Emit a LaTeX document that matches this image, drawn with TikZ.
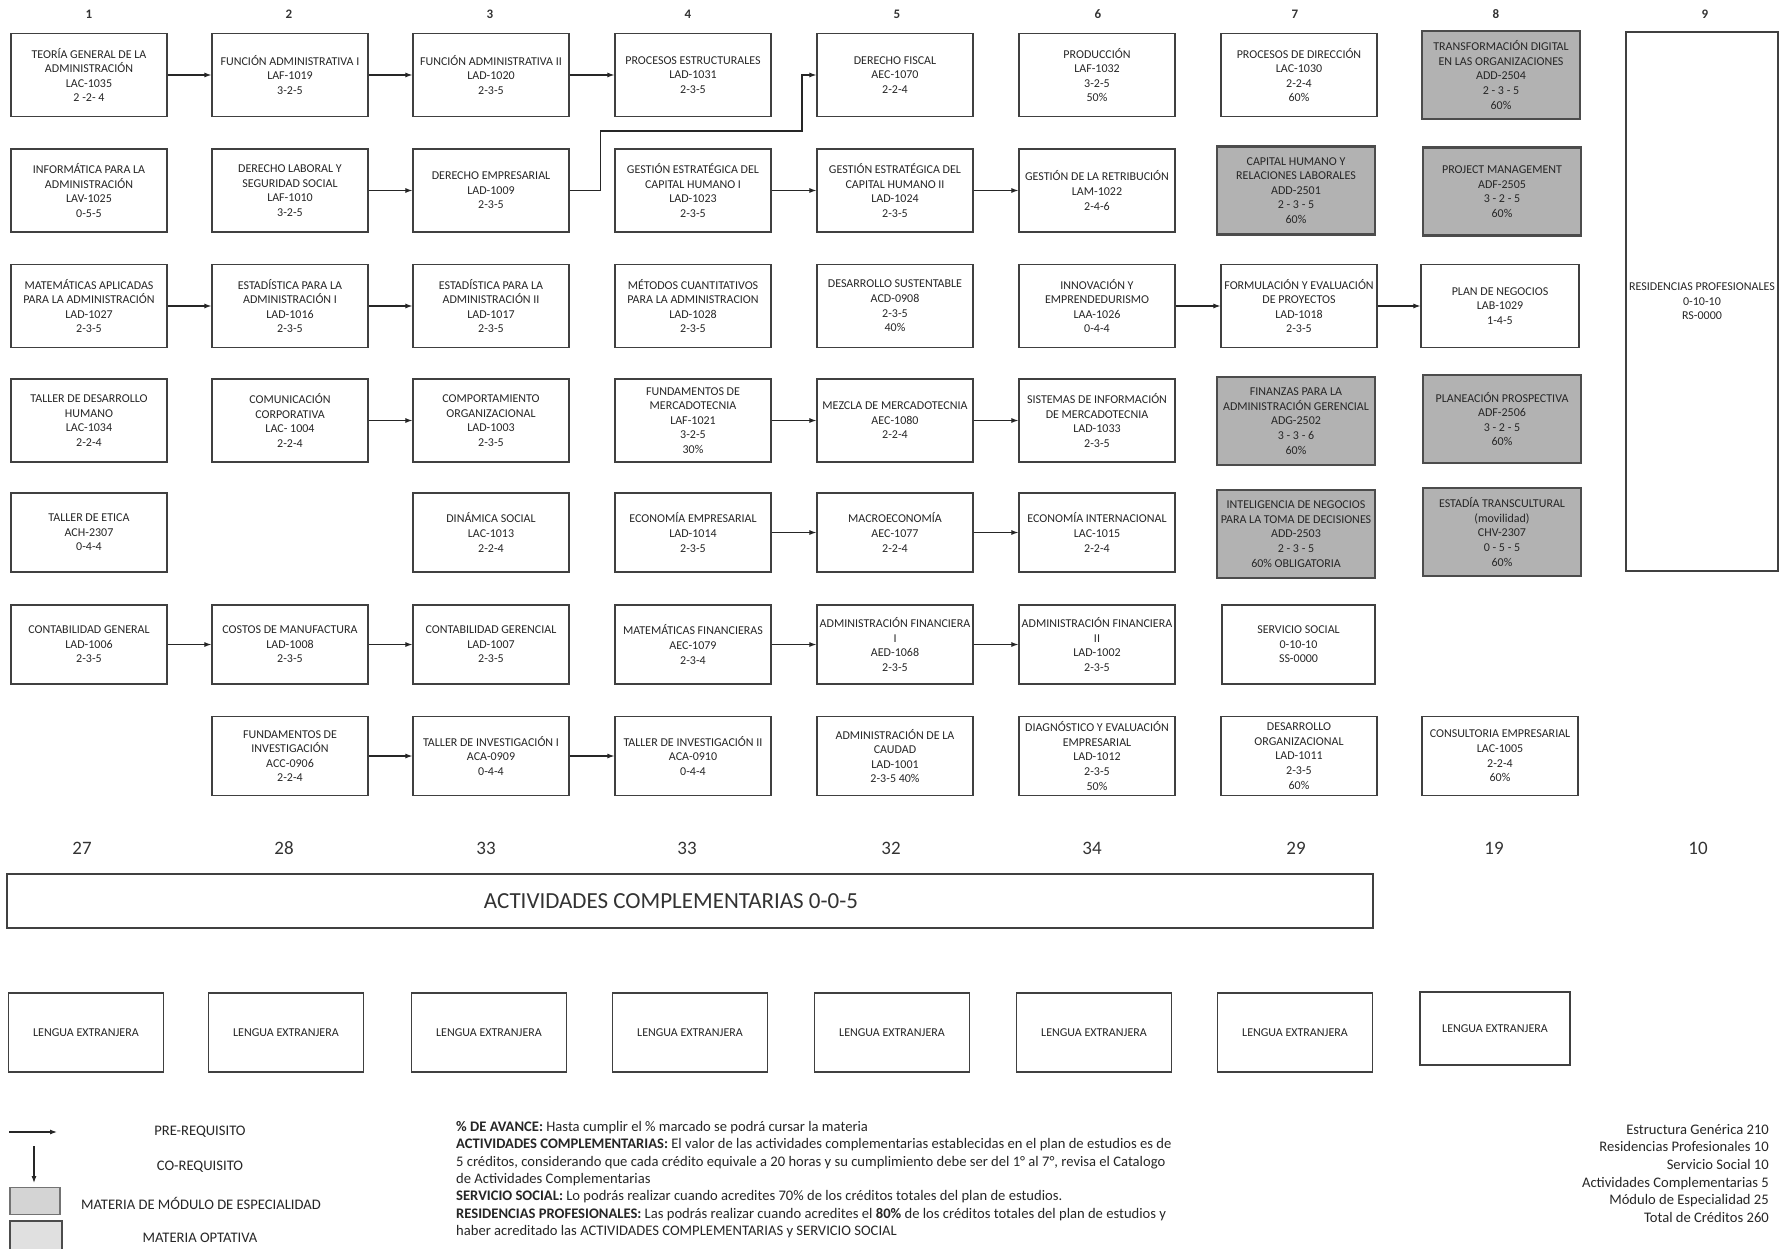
\documentclass[tikz,border=0pt]{standalone}
\usepackage{fontspec}
\setmainfont{Carlito}
\usetikzlibrary{arrows.meta}
\tikzset{
  materia/.style={draw=black!75,line width=1.2pt,minimum width=156pt,minimum height=83pt,
    align=center,inner sep=1pt,text=black!85,font=\fontsize{12}{14.6}\selectfont},
  corta/.style={materia,minimum height=79pt},
  modulo/.style={materia,fill=black!30,draw=black!70,line width=2.6pt,minimum width=158pt,minimum height=88pt},
  lengua/.style={materia,minimum width=155pt,minimum height=79pt},
  pre/.style={-{Latex[length=7pt,width=5pt]},line width=1.1pt,black!85},
  semestre/.style={font=\fontsize{13}{15}\selectfont\bfseries,text=black!80},
  creditos/.style={font=\fontsize{19}{22}\selectfont,text=black!80},
  leyenda/.style={font=\fontsize{14.6}{17}\selectfont,text=black!85}
}
\begin{document}
\begin{tikzpicture}[x=1pt,y=-1pt]
\useasboundingbox (0,0) rectangle (1784,1249);

\node[semestre] (s1) at (89,14) {1};
\node[semestre] (s2) at (289,14) {2};
\node[semestre] (s3) at (490,14) {3};
\node[semestre] (s4) at (688,14) {4};
\node[semestre] (s5) at (897,14) {5};
\node[semestre] (s6) at (1098,14) {6};
\node[semestre] (s7) at (1295,14) {7};
\node[semestre] (s8) at (1496,14) {8};
\node[semestre] (s9) at (1705,14) {9};

\node[materia] (teoria) at (89,75) {TEORÍA GENERAL DE LA\\ADMINISTRACIÓN\\LAC-1035\\2 -2- 4};
\node[materia] (funadm1) at (290,75) {FUNCIÓN ADMINISTRATIVA I\\LAF-1019\\3-2-5};
\node[materia] (funadm2) at (491,75) {FUNCIÓN ADMINISTRATIVA II\\LAD-1020\\2-3-5};
\node[materia] (procest) at (693,75) {PROCESOS ESTRUCTURALES\\LAD-1031\\2-3-5};
\node[materia] (derfiscal) at (895,75) {DERECHO FISCAL\\AEC-1070\\2-2-4};
\node[materia] (produccion) at (1097,75) {PRODUCCIÓN\\LAF-1032\\3-2-5\\50\%};
\node[materia] (procdir) at (1299,75) {PROCESOS DE DIRECCIÓN\\LAC-1030\\2-2-4\\60\%};
\node[modulo] (transdig) at (1501,75) {TRANSFORMACIÓN DIGITAL\\EN LAS ORGANIZACIONES\\ADD-2504\\2 - 3 - 5\\60\%};
\node[materia,minimum width=152pt,minimum height=539pt] (residencias) at (1702,301.5) {RESIDENCIAS PROFESIONALES\\0-10-10\\RS-0000};

\node[materia] (informatica) at (89,190.5) {INFORMÁTICA PARA LA\\ADMINISTRACIÓN\\LAV-1025\\0-5-5};
\node[materia] (derlab) at (290,190.5) {DERECHO LABORAL Y\\SEGURIDAD SOCIAL\\LAF-1010\\3-2-5};
\node[materia] (deremp) at (491,190.5) {DERECHO EMPRESARIAL\\LAD-1009\\2-3-5};
\node[materia] (gech1) at (693,190.5) {GESTIÓN ESTRATÉGICA DEL\\CAPITAL HUMANO I\\LAD-1023\\2-3-5};
\node[materia] (gech2) at (895,190.5) {GESTIÓN ESTRATÉGICA DEL\\CAPITAL HUMANO II\\LAD-1024\\2-3-5};
\node[materia] (retrib) at (1097,190.5) {GESTIÓN DE LA RETRIBUCIÓN\\LAM-1022\\2-4-6};
\node[modulo] (caphum) at (1296,190.5) {CAPITAL HUMANO Y\\RELACIONES LABORALES\\ADD-2501\\2 - 3 - 5\\60\%};
\node[modulo] (projman) at (1502,191.5) {PROJECT MANAGEMENT\\ADF-2505\\3 - 2 - 5\\60\%};

\node[materia] (matapl) at (89,306) {MATEMÁTICAS APLICADAS\\PARA LA ADMINISTRACIÓN\\LAD-1027\\2-3-5};
\node[materia] (estad1) at (290,306) {ESTADÍSTICA PARA LA\\ADMINISTRACIÓN I\\LAD-1016\\2-3-5};
\node[materia] (estad2) at (491,306) {ESTADÍSTICA PARA LA\\ADMINISTRACIÓN II\\LAD-1017\\2-3-5};
\node[materia] (metcuant) at (693,306) {MÉTODOS CUANTITATIVOS\\PARA LA ADMINISTRACION\\LAD-1028\\2-3-5};
\node[materia] (dessust) at (895,306) {DESARROLLO SUSTENTABLE\\ACD-0908\\2-3-5\\40\%};
\node[materia] (innov) at (1097,306) {INNOVACIÓN Y\\EMPRENDEDURISMO\\LAA-1026\\0-4-4};
\node[materia] (formeval) at (1299,306) {FORMULACIÓN Y EVALUACIÓN\\DE PROYECTOS\\LAD-1018\\2-3-5};
\node[materia,minimum width=158pt] (planneg) at (1500,306) {PLAN DE NEGOCIOS\\LAB-1029\\1-4-5};

\node[materia] (tallerdh) at (89,420.5) {TALLER DE DESARROLLO\\HUMANO\\LAC-1034\\2-2-4};
\node[materia] (comcorp) at (290,420.5) {COMUNICACIÓN\\CORPORATIVA\\LAC- 1004\\2-2-4};
\node[materia] (comporg) at (491,420.5) {COMPORTAMIENTO\\ORGANIZACIONAL\\LAD-1003\\2-3-5};
\node[materia] (fundmerc) at (693,420.5) {FUNDAMENTOS DE\\MERCADOTECNIA\\LAF-1021\\3-2-5\\30\%};
\node[materia] (mezcla) at (895,420.5) {MEZCLA DE MERCADOTECNIA\\AEC-1080\\2-2-4};
\node[materia] (sistinf) at (1097,420.5) {SISTEMAS DE INFORMACIÓN\\DE MERCADOTECNIA\\LAD-1033\\2-3-5};
\node[modulo] (finanzas) at (1296,421) {FINANZAS PARA LA\\ADMINISTRACIÓN GERENCIAL\\ADG-2502\\3 - 3 - 6\\60\%};
\node[modulo] (planpros) at (1502,419) {PLANEACIÓN PROSPECTIVA\\ADF-2506\\3 - 2 - 5\\60\%};

\node[corta] (etica) at (89,532.5) {TALLER DE ETICA\\ACH-2307\\0-4-4};
\node[corta] (dinsocial) at (491,532.5) {DINÁMICA SOCIAL\\LAC-1013\\2-2-4};
\node[corta] (econemp) at (693,532.5) {ECONOMÍA EMPRESARIAL\\LAD-1014\\2-3-5};
\node[corta] (macro) at (895,532.5) {MACROECONOMÍA\\AEC-1077\\2-2-4};
\node[corta] (econint) at (1097,532.5) {ECONOMÍA INTERNACIONAL\\LAC-1015\\2-2-4};
\node[modulo] (intneg) at (1296,534) {INTELIGENCIA DE NEGOCIOS\\PARA LA TOMA DE DECISIONES\\ADD-2503\\2 - 3 - 5\\60\% OBLIGATORIA};
\node[modulo] (estadia) at (1502,532) {ESTADÍA TRANSCULTURAL\\(movilidad)\\CHV-2307\\0 - 5 - 5\\60\%};

\node[corta] (contgen) at (89,644.5) {CONTABILIDAD GENERAL\\LAD-1006\\2-3-5};
\node[corta] (costos) at (290,644.5) {COSTOS DE MANUFACTURA\\LAD-1008\\2-3-5};
\node[corta] (contger) at (491,644.5) {CONTABILIDAD GERENCIAL\\LAD-1007\\2-3-5};
\node[corta] (matfin) at (693,644.5) {MATEMÁTICAS FINANCIERAS\\AEC-1079\\2-3-4};
\node[corta] (admfin1) at (895,644.5) {ADMINISTRACIÓN FINANCIERA\\I\\AED-1068\\2-3-5};
\node[corta] (admfin2) at (1097,644.5) {ADMINISTRACIÓN FINANCIERA\\II\\LAD-1002\\2-3-5};
\node[corta,minimum width=153pt] (servsocial) at (1298.5,644.5) {SERVICIO SOCIAL\\0-10-10\\SS-0000};

\node[corta] (fundinv) at (290,756) {FUNDAMENTOS DE\\INVESTIGACIÓN\\ACC-0906\\2-2-4};
\node[corta] (tallinv1) at (491,756) {TALLER DE INVESTIGACIÓN I\\ACA-0909\\0-4-4};
\node[corta] (tallinv2) at (693,756) {TALLER DE INVESTIGACIÓN II\\ACA-0910\\0-4-4};
\node[corta] (calidad) at (895,756) {ADMINISTRACIÓN DE LA\\CAUDAD\\LAD-1001\\2-3-5 40\%};
\node[corta] (diagnostico) at (1097,756) {DIAGNÓSTICO Y EVALUACIÓN\\EMPRESARIAL\\LAD-1012\\2-3-5\\50\%};
\node[corta] (desorg) at (1299,756) {DESARROLLO\\ORGANIZACIONAL\\LAD-1011\\2-3-5\\60\%};
\node[corta] (consultoria) at (1500,756) {CONSULTORIA EMPRESARIAL\\LAC-1005\\2-2-4\\60\%};

\draw[pre] (teoria) -- (funadm1);
\draw[pre] (funadm1) -- (funadm2);
\draw[pre] (funadm2) -- (procest);
\draw[pre] (derlab) -- (deremp);
\draw[pre] (gech1) -- (gech2);
\draw[pre] (gech2) -- (retrib);
\coordinate (quiebre) at (802,131);
\draw[pre] (deremp.east) -- ++(31,0) |- (quiebre) |- (derfiscal.west);
\draw[pre] (matapl) -- (estad1);
\draw[pre] (estad1) -- (estad2);
\draw[pre] (innov) -- (formeval);
\draw[pre] (formeval) -- (planneg);
\draw[pre] (comcorp) -- (comporg);
\draw[pre] (fundmerc) -- (mezcla);
\draw[pre] (mezcla) -- (sistinf);
\draw[pre] (econemp) -- (macro);
\draw[pre] (macro) -- (econint);
\draw[pre] (contgen) -- (costos);
\draw[pre] (costos) -- (contger);
\draw[pre] (matfin) -- (admfin1);
\draw[pre] (admfin1) -- (admfin2);
\draw[pre] (fundinv) -- (tallinv1);
\draw[pre] (tallinv1) -- (tallinv2);

\node[creditos] (c1) at (82,848) {27};
\node[creditos] (c2) at (284,848) {28};
\node[creditos] (c3) at (486,848) {33};
\node[creditos] (c4) at (687,848) {33};
\node[creditos] (c5) at (891,848) {32};
\node[creditos] (c6) at (1092,848) {34};
\node[creditos] (c7) at (1296,848) {29};
\node[creditos] (c8) at (1494,848) {19};
\node[creditos] (c9) at (1698,848) {10};

\node[draw=black!75,line width=1.2pt,minimum width=1366pt,minimum height=54pt] (actcomp) at (690,901) {};
\node[font=\fontsize{23}{26}\selectfont,text=black!80] (actlabel) at (671,901) {ACTIVIDADES COMPLEMENTARIAS 0-0-5};

\node[lengua] (le1) at (86,1032.5) {LENGUA EXTRANJERA};
\node[lengua] (le2) at (286,1032.5) {LENGUA EXTRANJERA};
\node[lengua] (le3) at (489,1032.5) {LENGUA EXTRANJERA};
\node[lengua] (le4) at (690,1032.5) {LENGUA EXTRANJERA};
\node[lengua] (le5) at (892,1032.5) {LENGUA EXTRANJERA};
\node[lengua] (le6) at (1094,1032.5) {LENGUA EXTRANJERA};
\node[lengua] (le7) at (1295,1032.5) {LENGUA EXTRANJERA};
\node[lengua,minimum width=150pt,minimum height=73pt] (le8) at (1495,1028.5) {LENGUA EXTRANJERA};

\coordinate (prea) at (9,1132);
\coordinate (preb) at (57,1132);
\draw[pre] (prea) -- (preb);
\node[leyenda] (lpre) at (200,1132) {PRE-REQUISITO};
\coordinate (coa) at (34,1146);
\coordinate (cob) at (34,1183);
\draw[pre] (coa) -- (cob);
\node[leyenda] (lco) at (200,1167) {CO-REQUISITO};
\node[draw=black!55,fill=black!17,line width=1.4pt,minimum width=50pt,minimum height=27pt] (lmod) at (35,1201) {};
\node[leyenda] (lmodtxt) at (201,1203) {MATERIA DE MÓDULO DE ESPECIALIDAD};
\node[draw=black!70,fill=black!12,line width=2.4pt,minimum width=52pt,minimum height=32pt] (lopt) at (36,1237) {};
\node[leyenda] (lopttxt) at (200,1238) {MATERIA OPTATIVA};

\node[anchor=north west,align=left,inner sep=0pt,text=black!85,font=\fontsize{14.6}{17.4}\selectfont] (notas) at (456,1121) {%
\textbf{\% DE AVANCE:} Hasta cumplir el \% marcado se podrá cursar la materia\\
\textbf{ACTIVIDADES COMPLEMENTARIAS:} El valor de las actividades complementarias establecidas en el plan de estudios es de\\
5 créditos, considerando que cada crédito equivale a 20 horas y su cumplimiento debe ser del 1° al 7°, revisa el Catalogo\\
de Actividades Complementarias\\
\textbf{SERVICIO SOCIAL:} Lo podrás realizar cuando acredites 70\% de los créditos totales del plan de estudios.\\
\textbf{RESIDENCIAS PROFESIONALES:} Las podrás realizar cuando acredites el \textbf{80\%} de los créditos totales del plan de estudios y\\
haber acreditado las ACTIVIDADES COMPLEMENTARIAS y SERVICIO SOCIAL};

\node[anchor=north east,align=right,inner sep=0pt,text=black!85,font=\fontsize{14.6}{17.6}\selectfont] (totales) at (1769,1124) {%
Estructura Genérica 210\\
Residencias Profesionales 10\\
Servicio Social 10\\
Actividades Complementarias 5\\
Módulo de Especialidad 25\\
Total de Créditos 260};
\end{tikzpicture}
\end{document}
